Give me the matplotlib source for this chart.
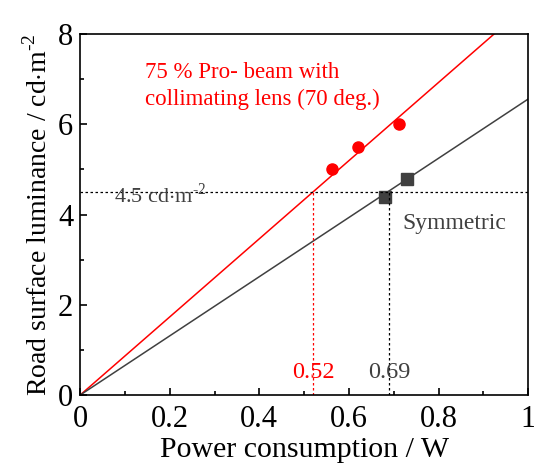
import matplotlib
matplotlib.use('Agg')
import matplotlib.pyplot as plt
import numpy as np

plt.rcParams['font.family'] = ['Liberation Serif', 'DejaVu Serif']
plt.rcParams['mathtext.fontset'] = 'custom'
plt.rcParams['mathtext.rm'] = 'Liberation Serif'

# data
pro_x = [0.562, 0.621, 0.711]
pro_y = [5.0, 5.5, 6.0]
sym_x = [0.681, 0.730]
sym_y = [4.40, 4.79]
pro_slope = 8.66
sym_slope = 6.56
target = 4.5
pro_cross = 0.52
sym_cross = 0.69

RED = '#ff0000'
GREY = '#404040'

fig = plt.figure(figsize=(5.34, 4.67), dpi=100)
ax = fig.add_axes([0.150, 0.154, 0.839, 0.773])

fit_x = np.array([0.0, 1.0])
ax.plot(fit_x, pro_slope * fit_x, color=RED, lw=1.1)
ax.plot(fit_x, sym_slope * fit_x, color=GREY, lw=1.1)
ax.plot(pro_x, pro_y, 'o', color=RED, ms=8)
ax.plot(sym_x, sym_y, 's', color=GREY, ms=8)

ax.axhline(target, color='black', ls=(0, (2, 2)), lw=0.9)
ax.plot([pro_cross, pro_cross], [0, target], color=RED, ls=(0, (2, 2)), lw=0.9)
ax.plot([sym_cross, sym_cross], [0, target], color='black', ls=(0, (2, 2)), lw=0.9)

ax.text(0.145, 6.85, '75 % Pro- beam with\ncollimating lens (70 deg.)',
        color=RED, fontsize=16.5, ha='left', va='center', linespacing=1.4)
ax.text(0.075, 4.42, r'4.5 cd$\cdot$m$^{\text{-2}}$', color=GREY, fontsize=16,
        ha='left', va='center')
ax.text(0.72, 3.8, 'Symmetric', color=GREY, fontsize=17, ha='left', va='center')
ax.text(pro_cross, 0.5, '0.52', color=RED, fontsize=17.5, ha='center', va='center')
ax.text(sym_cross, 0.5, '0.69', color=GREY, fontsize=17.5, ha='center', va='center')

ax.set_xlim(0, 1)
ax.set_ylim(0, 8)
ax.set_xticks([0, 0.2, 0.4, 0.6, 0.8, 1.0])
ax.set_xticklabels(['0', '0.2', '0.4', '0.6', '0.8', '1'])
ax.set_yticks([0, 2, 4, 6, 8])
ax.set_xticks(np.arange(0.1, 1.0, 0.2), minor=True)
ax.set_yticks([1, 3, 5, 7], minor=True)
ax.tick_params(which='both', direction='in', labelsize=22, width=1.2)
ax.tick_params(axis='x', pad=7)
ax.tick_params(axis='y', pad=5)
ax.tick_params(which='major', length=5)
ax.tick_params(which='minor', length=3)
for s in ax.spines.values():
    s.set_linewidth(1.2)

ax.set_xlabel('Power consumption / W', fontsize=21.5, labelpad=2)
ax.set_ylabel(r'Road surface luminance / cd$\cdot$m$^{\text{-2}}$', fontsize=20, labelpad=4)

fig.savefig('out.png', dpi=100)
